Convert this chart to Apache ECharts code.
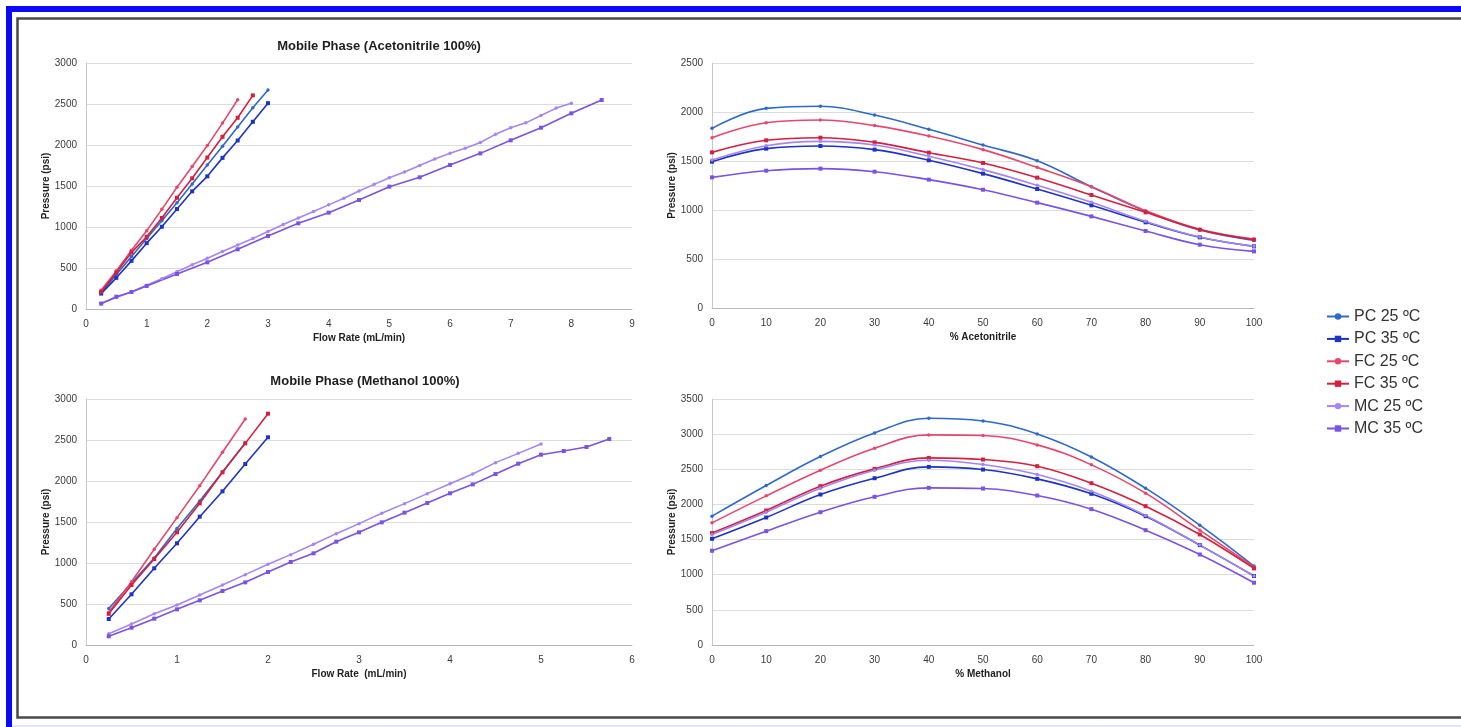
<!DOCTYPE html>
<html>
<head>
<meta charset="utf-8">
<title>Column pressure vs flow rate and mobile phase composition</title>
<script src="https://cdn.jsdelivr.net/npm/echarts@6/dist/echarts.min.js"></script>
<style>
  html, body { margin: 0; padding: 0; background: #ffffff; }
  #chart { width: 1461px; height: 727px; }
</style>
</head>
<body>
<div id="chart"></div>
<script>
// ---- Series names (shared legend) ----
const seriesNames = ['PC 25 ºC', 'PC 35 ºC', 'FC 25 ºC', 'FC 35 ºC', 'MC 25 ºC', 'MC 35 ºC'];

// ---- Acetonitrile 100%: pressure (psi) vs flow rate (mL/min) ----
const acnFlowPC25 = [0.25, 0.5, 0.75, 1, 1.25, 1.5, 1.75, 2, 2.25, 2.5, 2.75, 3];
const acnPC25     = [195, 420, 640, 860, 1075, 1295, 1525, 1755, 1985, 2220, 2455, 2670];
const acnFlowPC35 = [0.25, 0.5, 0.75, 1, 1.25, 1.5, 1.75, 2, 2.25, 2.5, 2.75, 3];
const acnPC35     = [188, 380, 587, 803, 1003, 1219, 1435, 1618, 1843, 2055, 2283, 2510];
const acnFlowFC25 = [0.25, 0.5, 0.75, 1, 1.25, 1.5, 1.75, 2, 2.25, 2.5];
const acnFC25     = [228, 465, 717, 954, 1215, 1484, 1737, 1993, 2267, 2552];
const acnFlowFC35 = [0.25, 0.5, 0.75, 1, 1.25, 1.5, 1.75, 2, 2.25, 2.5, 2.75];
const acnFC35     = [210, 445, 690, 880, 1110, 1357, 1594, 1847, 2100, 2332, 2605];
const acnFlowMC25 = [0.25, 0.5, 0.75, 1, 1.25, 1.5, 1.75, 2, 2.25, 2.5, 2.75, 3, 3.25, 3.5, 3.75, 4,
                     4.25, 4.5, 4.75, 5, 5.25, 5.5, 5.75, 6, 6.25, 6.5, 6.75, 7, 7.25, 7.5, 7.75, 8];
const acnMC25     = [70, 140, 210, 290, 370, 455, 540, 620, 700, 780, 860, 945, 1030, 1110, 1190, 1270,
                     1350, 1440, 1520, 1600, 1670, 1750, 1830, 1900, 1960, 2030, 2130, 2210, 2270, 2360, 2450, 2510];
const acnFlowMC35 = [0.25, 0.5, 0.75, 1, 1.5, 2, 2.5, 3, 3.5, 4, 4.5, 5, 5.5, 6, 6.5, 7, 7.5, 8, 8.5];
const acnMC35     = [65, 150, 207, 280, 427, 569, 728, 890, 1045, 1175, 1329, 1492, 1606, 1756, 1898, 2057, 2211, 2386, 2549];

// ---- Methanol 100%: pressure (psi) vs flow rate (mL/min) ----
const meoFlowPC25 = [0.25, 0.5, 0.75, 1, 1.25, 1.5, 1.75];
const meoPC25     = [445, 755, 1060, 1420, 1755, 2110, 2465];
const meoFlowPC35 = [0.25, 0.5, 0.75, 1, 1.25, 1.5, 1.75, 2];
const meoPC35     = [317, 618, 935, 1240, 1565, 1874, 2207, 2533];
const meoFlowFC25 = [0.25, 0.5, 0.75, 1, 1.25, 1.5, 1.75];
const meoFC25     = [400, 772, 1167, 1553, 1943, 2350, 2756];
const meoFlowFC35 = [0.25, 0.5, 0.75, 1, 1.25, 1.5, 1.75, 2];
const meoFC35     = [380, 732, 1049, 1374, 1728, 2106, 2459, 2821];
const meoFlowMC25 = [0.25, 0.5, 0.75, 1, 1.25, 1.5, 1.75, 2, 2.25, 2.5, 2.75, 3, 3.25, 3.5, 3.75, 4,
                     4.25, 4.5, 4.75, 5];
const meoMC25     = [138, 256, 382, 488, 610, 732, 858, 984, 1102, 1228, 1358, 1480, 1606, 1724, 1846, 1967,
                     2085, 2224, 2337, 2451];
const meoFlowMC35 = [0.25, 0.5, 0.75, 1, 1.25, 1.5, 1.75, 2, 2.25, 2.5, 2.75, 3, 3.25, 3.5, 3.75, 4,
                     4.25, 4.5, 4.75, 5, 5.25, 5.5, 5.75];
const meoMC35     = [106, 211, 321, 435, 545, 659, 764, 890, 1012, 1118, 1260, 1374, 1496, 1614, 1732, 1850,
                     1959, 2085, 2211, 2321, 2366, 2415, 2512];

// ---- Pressure (psi) vs organic modifier percentage ----
const percent = [0, 10, 20, 30, 40, 50, 60, 70, 80, 90, 100];

const acnPctPC25 = [1833, 2037, 2058, 1969, 1823, 1663, 1503, 1238, 988, 795, 690];
const acnPctPC35 = [1493, 1626, 1653, 1616, 1507, 1371, 1214, 1048, 874, 721, 629];
const acnPctFC25 = [1738, 1891, 1918, 1861, 1755, 1616, 1435, 1238, 993, 803, 704];
const acnPctFC35 = [1588, 1711, 1738, 1690, 1585, 1480, 1330, 1153, 976, 799, 697];
const acnPctMC25 = [1510, 1656, 1700, 1663, 1548, 1412, 1252, 1078, 884, 724, 629];
const acnPctMC35 = [1333, 1401, 1422, 1391, 1310, 1207, 1075, 935, 786, 646, 578];

const meoPctPC25 = [1833, 2269, 2681, 3017, 3226, 3188, 3003, 2676, 2231, 1705, 1123];
const meoPctPC35 = [1511, 1814, 2141, 2373, 2534, 2496, 2364, 2151, 1833, 1421, 981];
const meoPctFC25 = [1738, 2122, 2487, 2800, 2989, 2980, 2847, 2563, 2160, 1634, 1110];
const meoPctFC35 = [1592, 1914, 2260, 2506, 2662, 2639, 2544, 2302, 1975, 1573, 1090];
const meoPctMC25 = [1573, 1890, 2231, 2487, 2629, 2568, 2425, 2188, 1843, 1421, 981];
const meoPctMC35 = [1341, 1620, 1890, 2108, 2236, 2226, 2127, 1933, 1634, 1288, 886];

// ---- Axis ticks ----
const acnFlowTicks = { min: 0, max: 9, interval: 1 };
const meoFlowTicks = { min: 0, max: 6, interval: 1 };
const pctTicks     = { min: 0, max: 100, interval: 10 };
const acnFlowPress = { min: 0, max: 3000, interval: 500 };
const meoFlowPress = { min: 0, max: 3000, interval: 500 };
const acnPctPress  = { min: 0, max: 2500, interval: 500 };
const meoPctPress  = { min: 0, max: 3500, interval: 500 };

// ---- Styling ----
const FONT = '"Liberation Sans", Arial, sans-serif';
const look = {
  'PC 25 ºC': { color: '#2d68cf', symbol: 'circle', size: 3.5 },
  'PC 35 ºC': { color: '#1d33c6', symbol: 'rect',   size: 4 },
  'FC 25 ºC': { color: '#e6476a', symbol: 'circle', size: 3.5 },
  'FC 35 ºC': { color: '#d61f3c', symbol: 'rect',   size: 4 },
  'MC 25 ºC': { color: '#a486f3', symbol: 'circle', size: 3.5 },
  'MC 35 ºC': { color: '#7b52e6', symbol: 'rect',   size: 4 }
};

const zip = (xs, ys) => xs.map((x, i) => [x, ys[i]]);

function makeSeries(name, idx, xs, ys, smooth) {
  const s = look[name];
  return {
    name, type: 'line',
    xAxisIndex: idx, yAxisIndex: idx,
    data: zip(xs, ys),
    smooth: smooth ? 0.4 : false,
    symbol: s.symbol, symbolSize: s.size,
    showSymbol: true,
    lineStyle: { color: s.color, width: 1.6 },
    itemStyle: { color: s.color },
    emphasis: { disabled: true }
  };
}

const series = [
  makeSeries('PC 25 ºC', 0, acnFlowPC25, acnPC25),
  makeSeries('PC 35 ºC', 0, acnFlowPC35, acnPC35),
  makeSeries('FC 25 ºC', 0, acnFlowFC25, acnFC25),
  makeSeries('FC 35 ºC', 0, acnFlowFC35, acnFC35),
  makeSeries('MC 25 ºC', 0, acnFlowMC25, acnMC25),
  makeSeries('MC 35 ºC', 0, acnFlowMC35, acnMC35),

  makeSeries('PC 25 ºC', 1, percent, acnPctPC25, true),
  makeSeries('PC 35 ºC', 1, percent, acnPctPC35, true),
  makeSeries('FC 25 ºC', 1, percent, acnPctFC25, true),
  makeSeries('FC 35 ºC', 1, percent, acnPctFC35, true),
  makeSeries('MC 25 ºC', 1, percent, acnPctMC25, true),
  makeSeries('MC 35 ºC', 1, percent, acnPctMC35, true),

  makeSeries('PC 25 ºC', 2, meoFlowPC25, meoPC25),
  makeSeries('PC 35 ºC', 2, meoFlowPC35, meoPC35),
  makeSeries('FC 25 ºC', 2, meoFlowFC25, meoFC25),
  makeSeries('FC 35 ºC', 2, meoFlowFC35, meoFC35),
  makeSeries('MC 25 ºC', 2, meoFlowMC25, meoMC25),
  makeSeries('MC 35 ºC', 2, meoFlowMC35, meoMC35),

  makeSeries('PC 25 ºC', 3, percent, meoPctPC25, true),
  makeSeries('PC 35 ºC', 3, percent, meoPctPC35, true),
  makeSeries('FC 25 ºC', 3, percent, meoPctFC25, true),
  makeSeries('FC 35 ºC', 3, percent, meoPctFC35, true),
  makeSeries('MC 25 ºC', 3, percent, meoPctMC25, true),
  makeSeries('MC 35 ºC', 3, percent, meoPctMC35, true)
];

const tickLabel = { fontFamily: FONT, fontSize: 10, color: '#3a3a3a' };
const axisName = { fontFamily: FONT, fontSize: 10, fontWeight: 'bold', color: '#222' };
const plainNumber = v => String(v);

function xAxis(idx, ticks, name) {
  return {
    type: 'value', gridIndex: idx, ...ticks,
    name, nameLocation: 'middle', nameGap: 24, nameTextStyle: axisName,
    axisLine: { show: true, lineStyle: { color: '#b8b8b8', width: 1 } },
    axisTick: { show: false },
    axisLabel: { ...tickLabel, margin: 10, formatter: plainNumber },
    splitLine: { show: false }
  };
}
function yAxis(idx, ticks) {
  return {
    type: 'value', gridIndex: idx, ...ticks,
    name: 'Pressure (psi)', nameLocation: 'middle', nameGap: 27, nameTextStyle: axisName,
    axisLine: { show: true, lineStyle: { color: '#c8c8c8', width: 1 } },
    axisTick: { show: false },
    axisLabel: { ...tickLabel, margin: 9, formatter: plainNumber },
    splitLine: { show: true, lineStyle: { color: '#dcdcdc', width: 1.2 } }
  };
}

const option = {
  backgroundColor: '#ffffff',
  animation: false,
  title: [
    { text: 'Mobile Phase (Acetonitrile 100%)', left: 374, top: 35, textAlign: 'center',
      textStyle: { fontFamily: FONT, fontSize: 13, fontWeight: 'bold', color: '#1e1e1e' } },
    { text: 'Mobile Phase (Methanol 100%)', left: 360, top: 370, textAlign: 'center',
      textStyle: { fontFamily: FONT, fontSize: 13, fontWeight: 'bold', color: '#1e1e1e' } }
  ],
  grid: [
    { left: 86,  top: 63,  width: 546, height: 246 },
    { left: 712, top: 63,  width: 542, height: 245 },
    { left: 86,  top: 399, width: 546, height: 246 },
    { left: 712, top: 399, width: 542, height: 246 }
  ],
  xAxis: [
    xAxis(0, acnFlowTicks, 'Flow Rate (mL/min)'),
    xAxis(1, pctTicks, '% Acetonitrile'),
    xAxis(2, meoFlowTicks, 'Flow Rate  (mL/min)'),
    xAxis(3, pctTicks, '% Methanol')
  ],
  yAxis: [
    yAxis(0, acnFlowPress),
    yAxis(1, acnPctPress),
    yAxis(2, meoFlowPress),
    yAxis(3, meoPctPress)
  ],
  legend: {
    data: seriesNames,
    orient: 'vertical',
    left: 1321, top: 303.5,
    itemWidth: 22, itemHeight: 8, itemGap: 6.4,
    textStyle: { fontFamily: FONT, fontSize: 16, lineHeight: 16, color: '#333' },
    selectedMode: false
  },
  graphic: [
    // outer blue band (top and left)
    { type: 'rect', silent: true, shape: { x: 6, y: 6, width: 1455, height: 6 }, style: { fill: '#0a0af5' } },
    { type: 'rect', silent: true, shape: { x: 6, y: 6, width: 6, height: 721 }, style: { fill: '#0a0af5' } },
    // dark frame
    { type: 'rect', silent: true, shape: { x: 17.5, y: 18.5, width: 1460, height: 699 },
      style: { fill: 'none', stroke: '#4a4a4a', lineWidth: 2.5 } },
    // faint lavender rule at the bottom edge
    { type: 'line', silent: true, shape: { x1: 12, y1: 726, x2: 1461, y2: 726 },
      style: { stroke: '#c8c8ff', lineWidth: 1 } }
  ],
  series
};

const chart = echarts.init(document.getElementById('chart'), null, { renderer: 'canvas' });
chart.setOption(option);
</script>
</body>
</html>
